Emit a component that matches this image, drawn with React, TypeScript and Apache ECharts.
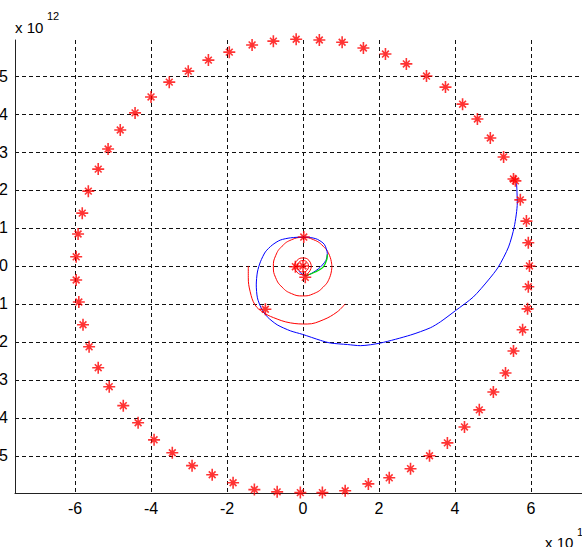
import React, { useEffect, useRef } from "react";
import * as echarts from "echarts";

// tick values (in units of 10^12 m)
const xTickValues = [-6, -4, -2, 0, 2, 4, 6];
const yTickValues = [-5, -4, -3, -2, -1, 0, 1, 2, 3, 4, 5];

// red '*' markers: outer orbit samples
const outerStars: [number, number][] = [
  [5.28, 2.87], [5.54, 2.29], [5.59, 2.24], [5.72, 1.74], [5.88, 1.18], [5.93, 0.61],
  [5.96, 0.0], [5.93, -0.55], [5.91, -1.13], [5.78, -1.68], [5.54, -2.24], [5.33, -2.82],
  [5.01, -3.32], [4.64, -3.79], [4.25, -4.24], [3.8, -4.66], [3.33, -5.0], [2.83, -5.34],
  [2.27, -5.58], [1.72, -5.74], [1.11, -5.92], [0.51, -5.97], [-0.07, -5.97], [-0.68, -5.95],
  [-1.28, -5.89], [-1.84, -5.71], [-2.39, -5.5], [-2.92, -5.26], [-3.44, -4.92], [-3.92, -4.58],
  [-4.34, -4.13], [-4.73, -3.68], [-5.1, -3.18], [-5.39, -2.68], [-5.63, -2.13], [-5.79, -1.55],
  [-5.9, -0.95], [-5.97, -0.37], [-5.97, 0.24], [-5.92, 0.84], [-5.81, 1.39], [-5.65, 1.97],
  [-5.39, 2.55], [-5.13, 3.08], [-4.81, 3.58], [-4.42, 4.03], [-4.0, 4.45], [-3.52, 4.84],
  [-3.02, 5.13], [-2.49, 5.42], [-1.94, 5.63], [-1.34, 5.82], [-0.78, 5.92], [-0.18, 5.97],
  [0.43, 5.95], [1.03, 5.89], [1.59, 5.74], [2.17, 5.58], [2.72, 5.32], [3.25, 5.0],
  [3.75, 4.71], [4.2, 4.26], [4.59, 3.87], [4.93, 3.37],
];

// red '*' markers: inner bodies
const innerStars: [number, number][] = [
  [0.02, 0.76], [-0.99, -1.14], [0.0, 0.0], [-0.2, -0.02], [0.06, -0.3],
];

// red orbit lines
const orbitSmallA: [number, number][] = [
  [0.15, -0.01], [0.106, 0.096], [0.0, 0.14], [-0.106, 0.096], [-0.15, -0.01],
  [-0.106, -0.116], [0.0, -0.16], [0.106, -0.116], [0.15, -0.01],
];
const orbitSmallB: [number, number][] = [
  [0.22, -0.01], [0.156, 0.146], [0.0, 0.21], [-0.156, 0.146], [-0.22, -0.01],
  [-0.156, -0.166], [0.0, -0.23], [0.156, -0.166], [0.22, -0.01],
];
const orbitJupiter: [number, number][] = [
  [0.76, -0.02], [0.7, 0.27], [0.53, 0.52], [0.28, 0.69], [-0.01, 0.75], [-0.3, 0.69],
  [-0.55, 0.52], [-0.72, 0.27], [-0.78, -0.02], [-0.72, -0.31], [-0.55, -0.56], [-0.3, -0.73],
  [-0.01, -0.79], [0.28, -0.73], [0.53, -0.56], [0.7, -0.31], [0.76, -0.02],
];
const arcSaturn: [number, number][] = [
  [-1.44, 0.0], [-1.44, -0.3], [-1.39, -0.68], [-1.26, -1.03], [-1.05, -1.22], [-0.78, -1.36],
  [-0.33, -1.5], [0.11, -1.53], [0.53, -1.42], [0.9, -1.21], [1.11, -1.0],
];

// blue trajectory
const blueTrack: [number, number][] = [
  [-0.12, -0.13], [0.06, -0.26], [0.4, -0.08], [0.6, 0.14], [0.64, 0.33], [0.56, 0.57],
  [0.38, 0.7], [0.19, 0.75], [0.01, 0.76], [-0.33, 0.74], [-0.6, 0.68], [-0.81, 0.55],
  [-0.99, 0.37], [-1.12, 0.11], [-1.2, -0.16], [-1.23, -0.5], [-1.2, -0.84], [-1.1, -1.11],
  [-0.94, -1.34], [-0.68, -1.55], [-0.33, -1.71], [-0.02, -1.8], [0.46, -1.96], [0.72, -2.03],
  [1.17, -2.07], [1.51, -2.1], [2.04, -2.03], [2.83, -1.82], [3.35, -1.63], [3.62, -1.47],
  [4.01, -1.18], [4.48, -0.82], [4.88, -0.37], [5.14, -0.03], [5.41, 0.5], [5.56, 1.03],
  [5.64, 1.66], [5.63, 2.0], [5.62, 2.18],
];

// green segment
const greenTrack: [number, number][] = [
  [0.06, -0.26], [0.32, -0.16], [0.53, -0.03], [0.63, 0.18], [0.64, 0.3],
];

const STAR = "path://M6,0L6,12M0,6L12,6M2.6,2.6L9.4,9.4M2.6,9.4L9.4,2.6";
const FONT = "'Liberation Sans', Arial, sans-serif";

function isTick(v: number, list: number[]) {
  return list.some((t) => Math.abs(t - v) < 1e-6);
}

export default function App() {
  const ref = useRef<HTMLDivElement>(null);
  useEffect(() => {
    if (!ref.current) return;
    const chart = echarts.init(ref.current, undefined, { renderer: "svg" });
    const lineSeries = (
      data: [number, number][],
      color: string,
      smooth: number | boolean,
      width = 1,
      z = 2
    ) => ({
      type: "line",
      data,
      showSymbol: false,
      symbol: "none",
      smooth,
      clip: false,
      lineStyle: { color, width },
      z,
    });
    chart.setOption({
      animation: false,
      backgroundColor: "#ffffff",
      grid: { left: 55, right: 69, top: 40, bottom: 54, containLabel: false },
      xAxis: {
        type: "value",
        min: -7.58,
        max: 7.58,
        minInterval: 2,
        maxInterval: 2,
        axisLine: { show: true, onZero: false, lineStyle: { color: "#222", width: 1 } },
        axisTick: { show: false },
        axisLabel: {
          color: "#000",
          fontSize: 16,
          fontFamily: FONT,
          margin: 7,
          formatter: (v: number) => (isTick(v, xTickValues) ? String(Math.round(v)) : ""),
        },
        splitLine: {
          show: true,
          showMinLine: false,
          showMaxLine: false,
          lineStyle: { color: "#111", width: 1, type: [4, 3] },
        },
      },
      yAxis: {
        type: "value",
        min: -5.98,
        max: 5.95,
        minInterval: 1,
        maxInterval: 1,
        axisLine: { show: true, onZero: false, lineStyle: { color: "#222", width: 1 } },
        axisTick: { show: false },
        axisLabel: {
          color: "#000",
          fontSize: 16,
          fontFamily: FONT,
          margin: 7,
          formatter: (v: number) => (isTick(v, yTickValues) ? String(Math.round(v)) : ""),
        },
        splitLine: {
          show: true,
          showMinLine: false,
          showMaxLine: false,
          lineStyle: { color: "#111", width: 1, type: [4, 3] },
        },
      },
      graphic: [
        { type: "text", x: 55, y: 27, style: { text: "x 10", fontSize: 15, fontFamily: FONT, fill: "#000", verticalAlign: "middle", align: "left" } },
        { type: "text", x: 87, y: 16, style: { text: "12", fontSize: 11, fontFamily: FONT, fill: "#000", verticalAlign: "middle", align: "left" } },
        { type: "text", x: 585, y: 542, style: { text: "x 10", fontSize: 15, fontFamily: FONT, fill: "#000", verticalAlign: "middle", align: "left" } },
        { type: "text", x: 617, y: 532, style: { text: "12", fontSize: 11, fontFamily: FONT, fill: "#000", verticalAlign: "middle", align: "left" } },
      ],
      series: [
        lineSeries(orbitSmallA, "#ff0000", 0.5),
        lineSeries(orbitSmallB, "#ff0000", 0.5),
        lineSeries(orbitJupiter, "#ff0000", 0.5),
        lineSeries(arcSaturn, "#ff0000", 0.4),
        lineSeries(blueTrack, "#0000ff", 0.25),
        lineSeries(greenTrack, "#00dd00", 0.3, 1.3, 3),
        {
          type: "scatter",
          data: [...outerStars, ...innerStars],
          symbol: STAR,
          symbolSize: 12,
          clip: false,
          itemStyle: { color: "#ff0000", borderColor: "#ff0000", borderWidth: 1.6 },
          z: 5,
        },
      ],
    });
    return () => chart.dispose();
  }, []);
  return (
    <div
      style={{
        position: "fixed",
        left: 0,
        top: 0,
        width: 582,
        height: 547,
        overflow: "hidden",
        background: "#fff",
      }}
    >
      <div
        ref={ref}
        style={{ position: "absolute", left: -40, top: 0, width: 700, height: 547 }}
      />
    </div>
  );
}
